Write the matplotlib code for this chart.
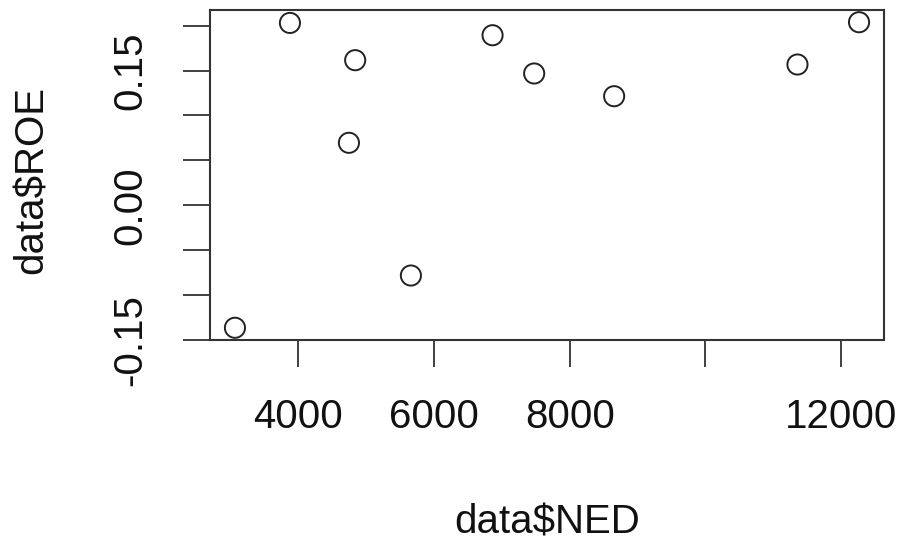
import numpy as np
import matplotlib
matplotlib.use("Agg")
import matplotlib.pyplot as plt

# values
ned = [3068, 3878, 4839, 4747, 5660, 6863, 7476, 8654, 11355, 12262]
roe = [-0.1365, 0.203, 0.1615, 0.0695, -0.0783, 0.1893, 0.1467, 0.1214, 0.1567, 0.2038]

x_ticks = [4000, 6000, 8000, 10000, 12000]
x_labels = ["4000", "6000", "8000", "", "12000"]
y_ticks = [-0.15, -0.10, -0.05, 0.00, 0.05, 0.10, 0.15, 0.20]
y_labels = ["-0.15", "", "", "0.00", "", "", "0.15", ""]

plt.rcParams["font.family"] = ["Liberation Sans", "DejaVu Sans"]

W, H = 901, 545
fig = plt.figure(figsize=(W / 100, H / 100), dpi=100)
ax = fig.add_axes([210 / W, (H - 340) / H, (884 - 210) / W, 330 / H])

ax.scatter(ned, roe, s=14.5 ** 2, facecolors="none", edgecolors="#222222", linewidths=1.4)

# R style axis range: data range plus 4 percent each side
xr = max(ned) - min(ned)
yr = max(roe) - min(roe)
ax.set_xlim(min(ned) - 0.04 * xr, max(ned) + 0.04 * xr)
ax.set_ylim(min(roe) - 0.04 * yr, max(roe) + 0.04 * yr)

ax.set_xticks(x_ticks)
ax.set_xticklabels(x_labels)
ax.set_yticks(y_ticks)
ax.set_yticklabels(y_labels, rotation=90, va="center")

ax.tick_params(direction="out", length=19.5, width=1.3, color="#333333",
               labelsize=29, labelcolor="#111111")
ax.tick_params(axis="x", pad=22)
ax.tick_params(axis="y", pad=24)

for sp in ax.spines.values():
    sp.set_linewidth(1.5)
    sp.set_color("#333333")

fig.text(547 / W, 1 - 522 / H, "data$NED", ha="center", va="center", fontsize=29, color="#111111")
fig.text(32 / W, 1 - 180 / H, "data$ROE", ha="center", va="center", rotation=90, fontsize=29, color="#111111")

fig.savefig("out.png", dpi=100)
